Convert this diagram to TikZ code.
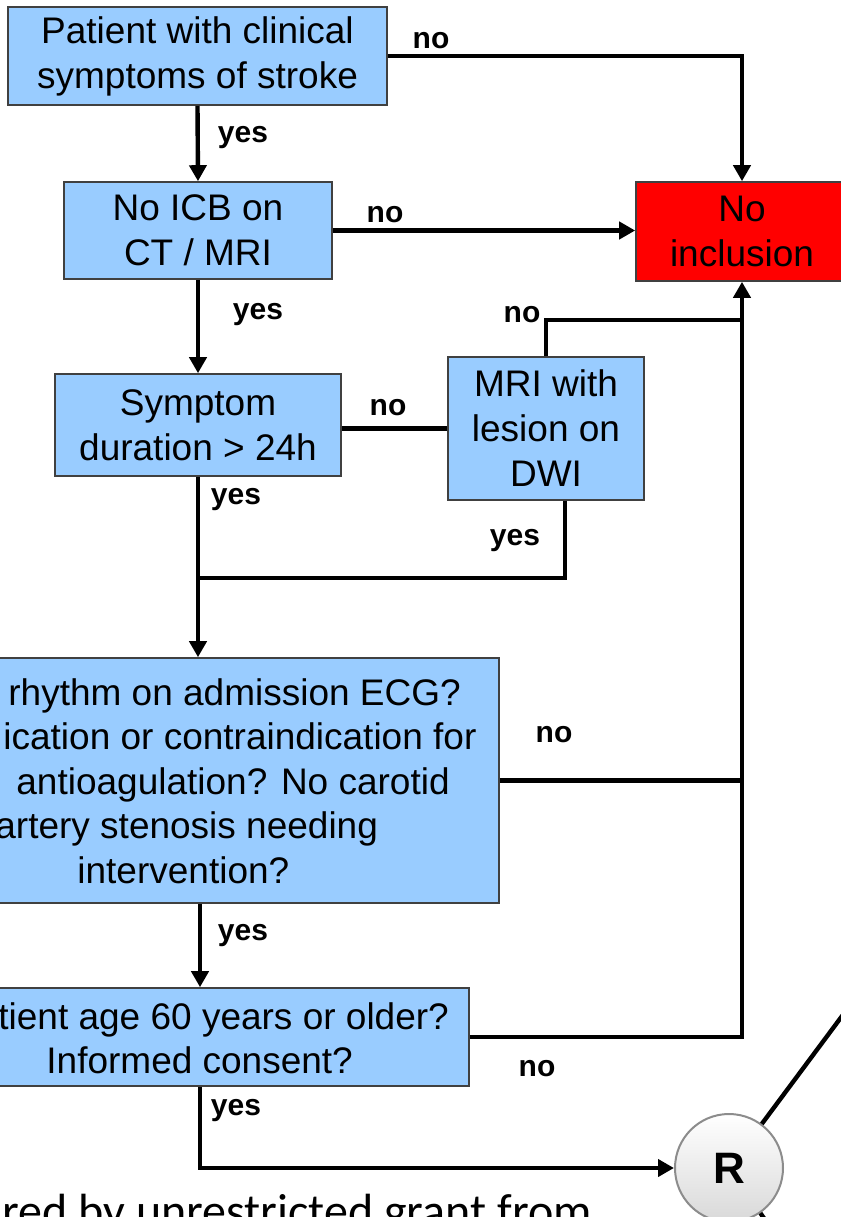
\documentclass[tikz,border=0pt]{standalone}
\usepackage{fontspec}
\setmainfont{Liberation Sans}
\newfontfamily\calibfont{Carlito}
\usetikzlibrary{arrows.meta, positioning, calc}
\definecolor{BoxBlue}{HTML}{99CCFF}
\definecolor{StopRed}{HTML}{FF0000}
\definecolor{EdgeGray}{HTML}{404040}
\definecolor{RingGray}{HTML}{8C8C8C}
\tikzset{
  box/.style={draw=EdgeGray, line width=0.8pt, fill=BoxBlue, align=center, inner sep=2pt, font=\fontsize{18.5}{22.5}\selectfont},
  redbox/.style={box, fill=StopRed},
  boxtext/.style={inner sep=0pt, align=left, anchor=north west, font=\fontsize{18.5}{22.25}\selectfont},
  lbl/.style={font=\fontsize{15}{18}\selectfont\bfseries, inner sep=0pt},
  arrow/.style={-{Triangle[length=8pt, width=8.5pt]}, line width=2.2pt},
  flowline/.style={line width=2.2pt},
  randnode/.style={circle, draw=RingGray, line width=1pt, top color=white, bottom color=gray!30, minimum size=54pt, inner sep=0pt, font=\fontsize{22}{24}\selectfont\bfseries}
}
\begin{document}
\begin{tikzpicture}[x=0.5pt, y=-0.5pt]
\useasboundingbox (0,0) rectangle (841,1217);
\clip (0,0) rectangle (841,1217);

% decision boxes
\node[box, minimum width=189.5pt, minimum height=49pt, text depth=3pt] (stroke) at (197.5,56) {Patient with clinical\\symptoms of stroke};
\node[box, minimum width=134pt, minimum height=48.5pt] (icb) at (198,230.5) {No ICB on\\CT / MRI};
\node[redbox, minimum width=106pt, minimum height=49.5pt] (noincl) at (742,231.5) {No\\inclusion};
\node[box, minimum width=143pt, minimum height=51pt] (dur) at (198,425) {Symptom\\duration > 24h};
\node[box, minimum width=98pt, minimum height=71.5pt] (mri) at (546,428.5) {MRI with\\lesion on\\DWI};
\node[box, minimum width=316pt, minimum height=122.5pt] (ecg) at (183,780.5) {};
\node[boxtext] (ecgtext) at (0,678) {\hspace*{4pt}rhythm on admission ECG?\\\hspace*{1.5pt}ication or contraindication for\\\hspace*{8pt}antioagulation? No carotid\\\hspace*{-2.5pt}artery stenosis needing\\\hspace*{38.5pt}intervention?};
\node[box, minimum width=269pt, minimum height=49pt] (age) at (200,1037) {};
\node[boxtext] (agetext) at (0,1002) {\hspace*{-1pt}tient age 60 years or older?\\\hspace*{23pt}Informed consent?};
\node[randnode] (rand) at (729,1168) {R};

\coordinate (bus) at (742,320);
\coordinate (merge) at (198,578);
\coordinate (randup) at (880,965);
\coordinate (randdown) at (800,1270);

% connectors
\draw[arrow] (stroke.east) -| (noincl.north);
\draw[arrow] (stroke.south) -- (icb.north);
\draw[arrow] (icb.east) -- (icb.east -| noincl.west);
\draw[arrow] (icb.south) -- (dur.north);
\draw[flowline] (mri.west) -- (mri.west -| dur.east);
\draw[arrow] (mri.north) |- (bus) -- (noincl.south);
\draw[flowline] ([xshift=9.5pt]mri.south) |- (merge);
\draw[arrow] (dur.south) -- (dur.south |- ecg.north);
\draw[flowline] (ecg.east) -- (ecg.east -| bus);
\draw[flowline] (age.east) -| (bus);
\draw[arrow] (age.north |- ecg.south) -- (age.north);
\draw[arrow] (age.south) |- (rand.west);
\draw[flowline] (rand) -- (randup);
\draw[flowline] (rand) -- (randdown);

% yes / no labels
\node[lbl] (no1) at (431,41) {no};
\node[lbl] (yes1) at (243,138) {yes};
\node[lbl] (no2) at (385,215) {no};
\node[lbl] (yes2) at (258,315) {yes};
\node[lbl] (no3) at (388,408) {no};
\node[lbl] (no4) at (522,315) {no};
\node[lbl] (yes3) at (515,541) {yes};
\node[lbl] (yes4) at (236,500) {yes};
\node[lbl] (no5) at (554,735) {no};
\node[lbl] (yes5) at (243,936) {yes};
\node[lbl] (no6) at (537,1069) {no};
\node[lbl] (yes6) at (236,1111) {yes};

\node[anchor=base west, inner sep=0pt, font=\calibfont\fontsize{24}{28}\selectfont] (grant) at (2,1227) {red by unrestricted grant from};
\end{tikzpicture}
\end{document}
